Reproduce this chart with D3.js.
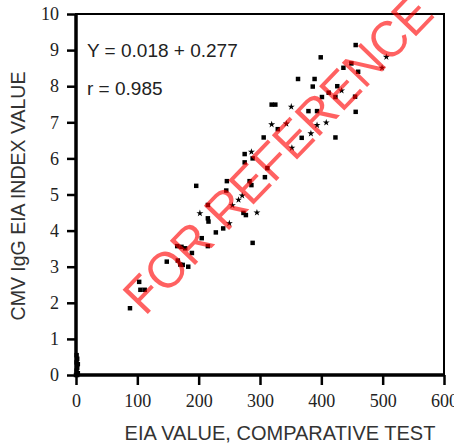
<!DOCTYPE html>
<html>
<head>
<meta charset="utf-8">
<script src="https://cdn.jsdelivr.net/npm/d3@7"></script>
<style>
  body { margin: 0; background: #fff; }
  svg { display: block; }
</style>
</head>
<body>
<svg id="chart"></svg>
<script>
// data
const compX = [456, 399, 506, 449, 436, 460, 499, 362, 389, 386, 426, 433, 412, 401, 423, 455,
  319, 325, 351, 379, 393, 456, 408, 393, 319, 329, 343, 383, 368, 423, 306, 352,
  275, 286, 288, 275, 312, 308, 283, 286, 246, 196, 245, 271, 265, 255, 215, 202,
  215, 273, 277, 295, 216, 250, 240, 228, 205, 288, 215, 165, 172, 178, 189, 148,
  166, 170, 174, 183, 103, 105, 112, 88,
  1, 2, 1, 3, 2, 1, 3, 0, 2]
const indexY = [9.14, 8.80, 8.81, 8.63, 8.51, 8.40, 8.51, 8.20, 8.20, 7.99, 8.00, 7.88, 7.82, 7.70, 7.70, 7.71,
  7.49, 7.49, 7.43, 7.31, 7.31, 7.29, 6.99, 6.92, 6.94, 6.81, 6.96, 6.69, 6.57, 6.58, 6.58, 6.29,
  6.12, 6.18, 6.00, 5.89, 5.73, 5.48, 5.37, 5.26, 5.37, 5.24, 5.11, 4.97, 4.85, 4.70, 4.71, 4.48,
  4.34, 4.49, 4.43, 4.50, 4.25, 4.20, 4.06, 3.95, 3.79, 3.66, 3.57, 3.57, 3.55, 3.51, 3.38, 3.14,
  3.17, 3.06, 3.05, 3.00, 2.58, 2.36, 2.36, 1.85,
  0.55, 0.45, 0.35, 0.30, 0.20, 0.12, 0.05, 0, 0]
// s = square marker, t = small star marker
const markType = ["s", "s", "t", "s", "s", "s", "t", "s", "s", "s", "s", "t", "s", "s", "s", "s",
  "s", "s", "t", "s", "s", "s", "t", "t", "t", "s", "t", "t", "s", "s", "s", "t",
  "s", "t", "s", "s", "s", "s", "s", "s", "s", "s", "s", "t", "t", "t", "s", "t",
  "s", "s", "s", "t", "s", "t", "s", "s", "s", "s", "s", "s", "s", "s", "s", "s",
  "s", "s", "s", "s", "s", "s", "s", "s",
  "s", "s", "s", "s", "s", "s", "s", "s", "s"]
const xTicks = [0, 100, 200, 300, 400, 500, 600]
const yTicks = [0, 1, 2, 3, 4, 5, 6, 7, 8, 9, 10]
const eqText = "Y = 0.018 + 0.277"
const rText = "r = 0.985"

const W = 454, H = 443
const margin = { top: 14, right: 10, bottom: 68, left: 76 }
const width = W - margin.left - margin.right
const height = H - margin.top - margin.bottom

const svg = d3.select("#chart")
  .attr("width", W)
  .attr("height", H)

const chart = svg.append("g")
  .attr("transform", `translate(${margin.left}, ${margin.top})`)

const x = d3.scaleLinear().domain([0, 600]).range([0, width])
const y = d3.scaleLinear().domain([0, 10]).range([height, 0])

// frame (top/right thinner)
chart.append("rect")
  .attr("x", 0).attr("y", 0)
  .attr("width", width).attr("height", height)
  .attr("fill", "none")
  .attr("stroke", "#000")
  .attr("stroke-width", 2)

// axes
const xAxis = chart.append("g")
  .attr("transform", `translate(0, ${height})`)
  .call(d3.axisBottom(x).tickValues(xTicks).tickSize(10).tickPadding(9))
xAxis.select(".domain").remove()
xAxis.selectAll("line").attr("stroke-width", 2.5)
xAxis.selectAll("text")
  .attr("font-family", "'Liberation Serif', 'Times New Roman', serif")
  .attr("font-size", 18)
  .attr("fill", "#222")

const yAxis = chart.append("g")
  .call(d3.axisLeft(y).tickValues(yTicks).tickSize(9).tickPadding(8))
yAxis.select(".domain").remove()
yAxis.selectAll("line").attr("stroke-width", 2.5)
yAxis.selectAll("text")
  .attr("font-family", "'Liberation Serif', 'Times New Roman', serif")
  .attr("font-size", 18)
  .attr("fill", "#222")

// thick left / bottom lines
chart.append("line")
  .attr("x1", 0).attr("x2", 0).attr("y1", 0).attr("y2", height + 1.5)
  .attr("stroke", "#000").attr("stroke-width", 3.5)
chart.append("line")
  .attr("x1", -1.5).attr("x2", width).attr("y1", height).attr("y2", height)
  .attr("stroke", "#000").attr("stroke-width", 3.5)

// axis titles
svg.append("text")
  .attr("x", 280)
  .attr("y", 440)
  .attr("text-anchor", "middle")
  .attr("font-family", "'Liberation Sans', Arial, sans-serif")
  .attr("font-size", 20)
  .attr("fill", "#333")
  .text("EIA VALUE, COMPARATIVE TEST")

svg.append("text")
  .attr("transform", "translate(25, 196) rotate(-90)")
  .attr("text-anchor", "middle")
  .attr("font-family", "'Liberation Sans', Arial, sans-serif")
  .attr("font-size", 19.5)
  .attr("fill", "#333")
  .text("CMV IgG EIA INDEX VALUE")

// regression text
chart.append("text")
  .attr("x", 11).attr("y", 43)
  .attr("font-family", "'Liberation Sans', Arial, sans-serif")
  .attr("font-size", 19)
  .attr("fill", "#222")
  .text(eqText)
chart.append("text")
  .attr("x", 11).attr("y", 81)
  .attr("font-family", "'Liberation Sans', Arial, sans-serif")
  .attr("font-size", 19)
  .attr("fill", "#222")
  .text(rText)

// points
const points = compX.map((v, i) => ({ cx: v, idx: indexY[i], m: markType[i] }))
const sq = d3.symbol().type(d3.symbolSquare).size(20)
const st = d3.symbol().type(d3.symbolStar).size(15)

chart.append("g")
  .selectAll("path")
  .data(points)
  .join("path")
  .attr("d", d => d.m === "t" ? st() : sq())
  .attr("transform", d => `translate(${x(d.cx)}, ${y(d.idx)})`)
  .attr("fill", "#000")

// watermark
svg.append("text")
  .attr("transform", "translate(145, 317) rotate(-46) scale(0.96, 1)")
  .attr("text-anchor", "start")
  .attr("font-family", "'Liberation Sans', Arial, sans-serif")
  .attr("font-size", 51)
  .attr("fill", "#ff0000")
  .attr("fill-opacity", 0.62)
  .text("FOR REFERENCE")
</script>
</body>
</html>
